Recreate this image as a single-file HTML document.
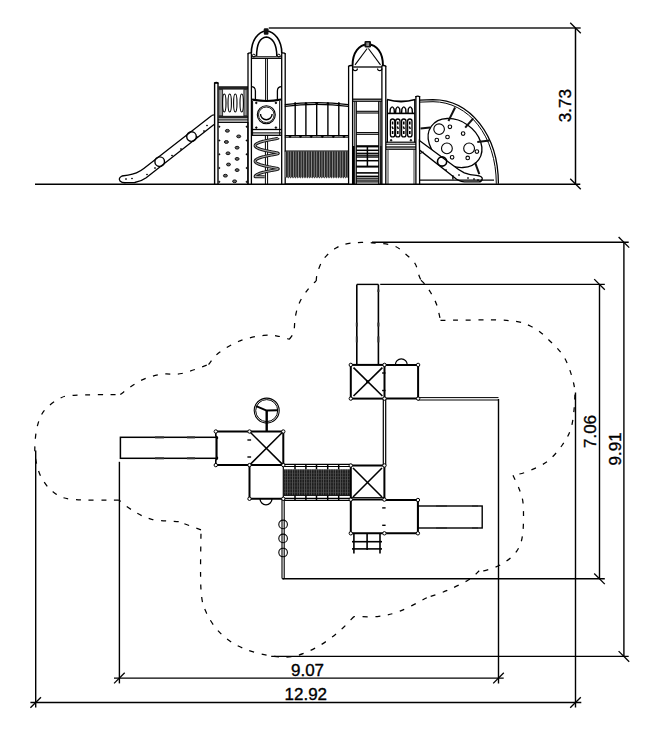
<!DOCTYPE html>
<html><head><meta charset="utf-8"><style>
html,body{margin:0;padding:0;background:#fff;}
body{width:668px;height:735px;overflow:hidden;position:relative;}
svg{position:absolute;left:0;top:0;}
text{font-family:"Liberation Sans",sans-serif;font-size:17px;fill:#000;stroke:#000;stroke-width:0.35px;}
</style></head><body>
<svg width="668" height="735" viewBox="0 0 668 735">
<defs><pattern id="mesh" width="2.4" height="3.2" patternUnits="userSpaceOnUse"><rect width="2.4" height="3.2" fill="#1c1c1c"/><rect x="1.7" width="0.5" height="3.2" fill="#777"/><rect y="2.6" width="2.4" height="0.4" fill="#555"/></pattern><pattern id="mesh2" width="2.6" height="25.4" patternUnits="userSpaceOnUse"><rect width="2.6" height="25.4" fill="#2a2a2a"/><rect x="1.8" width="0.7" height="25.4" fill="#aaa"/></pattern></defs>
<line x1="35" y1="184.3" x2="580.3" y2="184.3" stroke="#000" stroke-width="1.6"/>
<line x1="268.8" y1="28" x2="580.7" y2="28" stroke="#555" stroke-width="1.8"/>
<line x1="575.5" y1="28" x2="575.5" y2="184.3" stroke="#000" stroke-width="1.5"/>
<line x1="570.2" y1="22.7" x2="580.8" y2="33.3" stroke="#000" stroke-width="1.3"/>
<line x1="570.2" y1="178.7" x2="580.8" y2="189.3" stroke="#000" stroke-width="1.3"/>
<line x1="372" y1="242.3" x2="628.7" y2="242.3" stroke="#000" stroke-width="1.4"/>
<line x1="623.9" y1="242.3" x2="623.9" y2="656.4" stroke="#000" stroke-width="1.4"/>
<line x1="618.6" y1="237.0" x2="629.1999999999999" y2="247.60000000000002" stroke="#000" stroke-width="1.3"/>
<line x1="618.6" y1="651.1" x2="629.1999999999999" y2="661.6999999999999" stroke="#000" stroke-width="1.3"/>
<line x1="271.2" y1="656.4" x2="628.7" y2="656.4" stroke="#000" stroke-width="1.4"/>
<line x1="380.2" y1="284.4" x2="604.8" y2="284.4" stroke="#000" stroke-width="1.4"/>
<line x1="599.5" y1="284.4" x2="599.5" y2="578.8" stroke="#000" stroke-width="1.4"/>
<line x1="594.2" y1="279.09999999999997" x2="604.8" y2="289.7" stroke="#000" stroke-width="1.3"/>
<line x1="594.2" y1="573.5" x2="604.8" y2="584.0999999999999" stroke="#000" stroke-width="1.3"/>
<line x1="282.7" y1="578.8" x2="604.8" y2="578.8" stroke="#000" stroke-width="1.4"/>
<line x1="119.4" y1="461.8" x2="119.4" y2="683.4" stroke="#000" stroke-width="1.4"/>
<line x1="498.5" y1="399" x2="498.5" y2="683.4" stroke="#000" stroke-width="1.4"/>
<line x1="114" y1="678.1" x2="503.7" y2="678.1" stroke="#000" stroke-width="1.4"/>
<line x1="114.10000000000001" y1="683.4" x2="124.7" y2="672.8000000000001" stroke="#000" stroke-width="1.3"/>
<line x1="493.2" y1="683.4" x2="503.8" y2="672.8000000000001" stroke="#000" stroke-width="1.3"/>
<line x1="35.7" y1="450.5" x2="35.7" y2="707.6" stroke="#000" stroke-width="1.4"/>
<line x1="575.5" y1="392.5" x2="575.5" y2="707.6" stroke="#000" stroke-width="1.4"/>
<line x1="30.4" y1="702.5" x2="581.3" y2="702.5" stroke="#000" stroke-width="1.4"/>
<line x1="30.400000000000002" y1="707.8" x2="41.0" y2="697.2" stroke="#000" stroke-width="1.3"/>
<line x1="570.2" y1="707.8" x2="580.8" y2="697.2" stroke="#000" stroke-width="1.3"/>
<path d="M316.2,280.9 C316.4,279.5 316.3,276.1 317.5,272.5 C318.7,268.9 320.4,263.3 323.5,259.2 C326.6,255.1 331.5,250.7 336.0,248.0 C340.5,245.3 344.7,244.0 350.7,243.1 C356.7,242.2 364.9,242.4 372.0,242.8 C379.1,243.2 387.8,243.7 393.4,245.6 C399.0,247.5 401.8,251.0 405.4,254.0 C409.0,257.0 412.7,259.9 415.0,263.5 C417.3,267.1 418.0,272.7 419.0,275.5 C420.0,278.3 420.7,279.5 421.0,280.3 M421.0,280.3 C421.6,280.9 423.0,281.9 424.6,283.9 C426.2,285.9 428.5,288.9 430.5,292.3 C432.5,295.7 434.8,299.6 436.5,304.3 C438.2,309.0 439.8,317.7 440.5,320.4 M440.5,320.4 C451.5,320.4 491.2,319.3 506.4,320.4 C521.6,321.4 524.6,323.3 531.8,326.7 C539.0,330.1 544.1,335.4 549.6,340.7 C555.1,346.0 560.9,351.3 564.9,358.5 C568.9,365.7 572.2,376.8 573.8,384.0 C575.4,391.2 575.0,394.6 574.6,401.8 C574.2,409.0 573.3,420.1 571.3,427.3 C569.2,434.5 566.3,439.3 562.3,445.0 C558.3,450.7 553.0,457.1 547.1,461.6 C541.2,466.1 532.4,469.5 526.7,471.8 C521.0,474.1 515.3,474.7 513.0,475.3 M513.0,475.3 C514.1,477.8 517.9,485.1 519.6,490.0 C521.3,494.9 522.7,497.4 523.2,504.9 C523.7,512.4 523.7,527.2 522.6,534.9 C521.5,542.6 519.8,546.6 516.6,551.3 C513.4,556.0 508.2,560.1 503.2,563.3 C498.2,566.4 490.7,569.0 486.7,570.2 C482.7,571.5 480.4,570.7 479.2,570.8 M479.2,570.8 C477.4,572.3 473.9,576.6 468.7,579.8 C463.5,583.0 454.8,587.2 447.8,590.2 C440.8,593.2 430.3,596.5 426.8,597.7 M426.8,597.7 C422.3,600.0 407.9,608.1 399.9,611.2 C391.9,614.3 386.5,615.4 378.9,616.3 C371.2,617.2 358.1,616.5 354.0,616.5 M354.0,616.5 C351.4,619.0 344.8,626.7 338.7,631.7 C332.6,636.7 325.2,642.6 317.7,646.7 C310.2,650.8 301.8,654.8 293.8,656.3 C285.8,657.8 278.3,657.1 269.8,655.7 C261.3,654.4 250.9,651.7 242.9,648.2 C234.9,644.7 227.9,640.4 221.9,634.7 C215.9,629.0 210.4,621.3 206.9,613.8 C203.4,606.3 202.0,603.8 201.0,589.8 C200.0,575.8 201.0,539.8 201.0,529.8 M201.0,529.8 C197.3,528.4 182.4,523.1 178.7,521.7 M178.7,521.7 C174.2,521.3 159.2,521.0 151.7,519.3 C144.2,517.5 139.3,514.4 133.8,511.2 C128.3,508.0 121.3,502.0 118.8,500.1 M118.8,500.1 C110.8,500.0 81.9,500.6 70.9,499.2 C59.9,497.8 57.9,495.4 52.9,491.7 C47.9,488.0 43.9,482.3 41.0,476.8 C38.1,471.3 36.6,464.3 35.6,458.8 C34.6,453.3 34.7,449.3 35.0,443.8 C35.3,438.3 35.9,431.4 37.4,425.9 C38.9,420.4 40.4,415.4 44.0,410.9 C47.6,406.4 53.9,401.5 58.9,398.9 C63.9,396.3 63.7,396.0 73.9,395.3 C84.1,394.6 112.6,394.7 120.3,394.6 M120.3,394.6 C123.5,392.3 133.1,384.4 139.8,381.0 C146.5,377.6 153.7,375.6 160.7,374.4 C167.7,373.1 173.7,375.1 181.7,373.5 C189.7,371.9 204.0,366.0 208.5,364.5 M208.5,364.5 C210.2,362.6 213.7,356.8 218.9,352.8 C224.1,348.9 232.4,343.7 239.9,340.8 C247.4,337.9 257.3,336.1 263.8,335.4 C270.3,334.6 274.6,335.6 278.8,336.3 C283.1,337.0 287.6,338.8 289.3,339.3 M289.3,339.3 C290.1,338.1 292.8,335.6 293.8,331.8 C294.8,328.1 294.3,321.8 295.3,316.8 C296.3,311.8 297.6,306.6 299.8,301.9 C302.0,297.2 306.0,291.9 308.7,288.4 C311.4,284.9 314.9,282.1 316.2,280.9" fill="none" stroke="#000" stroke-width="1.25" stroke-dasharray="5,7.6"/>
<path d="M211.8,115.4 L143.8,168.6 Q137,174 128,175.2 L122,176 Q118,178 120,181 Q122,183 126,182.7 L134.7,182.5 Q141,181.5 146.2,177.7 L214,124.6" fill="none" stroke="#000" stroke-width="1.3" />
<path d="M211.8,115.4 L214.6,114.8 M214,124.6 L214.6,125" fill="none" stroke="#000" stroke-width="1.1" />
<circle cx="159.7" cy="161.7" r="4.8" fill="none" stroke="#000" stroke-width="1.4"/>
<circle cx="191.5" cy="136.6" r="4.8" fill="none" stroke="#000" stroke-width="1.4"/>
<circle cx="126" cy="179" r="0.5" fill="#000" stroke="#000" stroke-width="0.8"/>
<circle cx="132" cy="178.5" r="0.5" fill="#000" stroke="#000" stroke-width="0.8"/>
<circle cx="147" cy="174.5" r="0.5" fill="#000" stroke="#000" stroke-width="0.8"/>
<circle cx="155" cy="168" r="0.5" fill="#000" stroke="#000" stroke-width="0.8"/>
<circle cx="172" cy="155.5" r="0.5" fill="#000" stroke="#000" stroke-width="0.8"/>
<circle cx="181" cy="149" r="0.5" fill="#000" stroke="#000" stroke-width="0.8"/>
<circle cx="197" cy="137" r="0.5" fill="#000" stroke="#000" stroke-width="0.8"/>
<circle cx="204" cy="131" r="0.5" fill="#000" stroke="#000" stroke-width="0.8"/>
<circle cx="207" cy="125.5" r="0.5" fill="#000" stroke="#000" stroke-width="0.8"/>
<line x1="214.6" y1="83" x2="214.6" y2="184.3" stroke="#000" stroke-width="1.4"/>
<line x1="218.0" y1="83" x2="218.0" y2="184.3" stroke="#000" stroke-width="1.4"/>
<line x1="214.29999999999998" y1="83" x2="218.3" y2="83" stroke="#000" stroke-width="1.4"/>
<path d="M214.2,83.3 Q216.3,81.5 218.4,83.3" fill="none" stroke="#000" stroke-width="1.4" />
<rect x="218.2" y="86.2" width="29.8" height="3.4" fill="#222"/>
<rect x="218.8" y="89.6" width="3.8" height="26.2" fill="#999" stroke="#222" stroke-width="0.9"/>
<rect x="243.9" y="89.6" width="3.2" height="26.2" fill="#999" stroke="#222" stroke-width="0.9"/>
<ellipse cx="224.3" cy="103" rx="1.7" ry="9" fill="none" stroke="#000" stroke-width="1.1"/>
<ellipse cx="229.7" cy="103" rx="1.7" ry="9" fill="none" stroke="#000" stroke-width="1.1"/>
<ellipse cx="235.3" cy="103" rx="1.7" ry="9" fill="none" stroke="#000" stroke-width="1.1"/>
<ellipse cx="241.7" cy="103" rx="1.7" ry="9" fill="none" stroke="#000" stroke-width="1.1"/>
<rect x="218.2" y="115.8" width="29.8" height="2.6" fill="#222"/>
<line x1="218" y1="119.9" x2="248" y2="119.9" stroke="#000" stroke-width="1.1"/>
<line x1="218" y1="122.3" x2="248" y2="122.3" stroke="#000" stroke-width="1.3"/>
<line x1="247.9" y1="122" x2="247.9" y2="184" stroke="#000" stroke-width="1.2"/>
<ellipse cx="227.4" cy="130.8" rx="2.0" ry="1.4" fill="#666" stroke="#111" stroke-width="1.0"/>
<ellipse cx="238.7" cy="136.4" rx="2.0" ry="1.4" fill="#666" stroke="#111" stroke-width="1.0"/>
<ellipse cx="226.4" cy="142" rx="2.0" ry="1.4" fill="#666" stroke="#111" stroke-width="1.0"/>
<ellipse cx="237.1" cy="147.7" rx="2.0" ry="1.4" fill="#666" stroke="#111" stroke-width="1.0"/>
<ellipse cx="228" cy="153.3" rx="2.0" ry="1.4" fill="#666" stroke="#111" stroke-width="1.0"/>
<ellipse cx="237.1" cy="158.9" rx="2.0" ry="1.4" fill="#666" stroke="#111" stroke-width="1.0"/>
<ellipse cx="228.5" cy="164.5" rx="2.0" ry="1.4" fill="#666" stroke="#111" stroke-width="1.0"/>
<ellipse cx="237.1" cy="170.1" rx="2.0" ry="1.4" fill="#666" stroke="#111" stroke-width="1.0"/>
<ellipse cx="225.4" cy="175.7" rx="2.0" ry="1.4" fill="#666" stroke="#111" stroke-width="1.0"/>
<ellipse cx="234.6" cy="181.3" rx="2.0" ry="1.4" fill="#666" stroke="#111" stroke-width="1.0"/>
<circle cx="219.4" cy="126.7" r="0.6" fill="#000" stroke="#000" stroke-width="0.7"/>
<circle cx="246.6" cy="126.7" r="0.6" fill="#000" stroke="#000" stroke-width="0.7"/>
<circle cx="219.4" cy="140.5" r="0.6" fill="#000" stroke="#000" stroke-width="0.7"/>
<circle cx="246.6" cy="140.5" r="0.6" fill="#000" stroke="#000" stroke-width="0.7"/>
<circle cx="219.4" cy="154.3" r="0.6" fill="#000" stroke="#000" stroke-width="0.7"/>
<circle cx="246.6" cy="154.3" r="0.6" fill="#000" stroke="#000" stroke-width="0.7"/>
<circle cx="219.4" cy="168" r="0.6" fill="#000" stroke="#000" stroke-width="0.7"/>
<circle cx="246.6" cy="168" r="0.6" fill="#000" stroke="#000" stroke-width="0.7"/>
<circle cx="219.4" cy="181.8" r="0.6" fill="#000" stroke="#000" stroke-width="0.7"/>
<circle cx="246.6" cy="181.8" r="0.6" fill="#000" stroke="#000" stroke-width="0.7"/>
<line x1="248.0" y1="53.5" x2="248.0" y2="184.3" stroke="#000" stroke-width="1.3"/>
<line x1="251.4" y1="53.5" x2="251.4" y2="184.3" stroke="#000" stroke-width="1.3"/>
<line x1="281.7" y1="53.5" x2="281.7" y2="184.3" stroke="#000" stroke-width="1.3"/>
<line x1="285.2" y1="53.5" x2="285.2" y2="184.3" stroke="#000" stroke-width="1.3"/>
<path d="M247.6,54 Q249,52.3 251.8,53" fill="none" stroke="#000" stroke-width="1.3" />
<path d="M281.3,53 Q284,52.3 285.6,54" fill="none" stroke="#000" stroke-width="1.3" />
<path d="M251.3,53.5 C251.3,40 258,32 266.3,30.8 C274.6,32 281.8,40 281.8,53.5" fill="none" stroke="#000" stroke-width="1.6" />
<path d="M256.6,56 C256.6,44 260.5,37.5 266.4,36.9 C272.3,37.5 276.8,44 276.8,56" fill="none" stroke="#000" stroke-width="1.5" />
<rect x="263.8" y="28.3" width="4.7" height="6.5" fill="#111" rx="1"/>
<line x1="251.4" y1="56.8" x2="281.7" y2="56.8" stroke="#000" stroke-width="1.1"/>
<line x1="251.4" y1="58.4" x2="281.7" y2="58.4" stroke="#000" stroke-width="1.1"/>
<circle cx="253.8" cy="55.6" r="1.4" fill="none" stroke="#000" stroke-width="1.0"/>
<circle cx="278.8" cy="55.6" r="1.4" fill="none" stroke="#000" stroke-width="1.0"/>
<line x1="265.6" y1="58.4" x2="265.6" y2="101" stroke="#000" stroke-width="1.0"/>
<line x1="267.4" y1="58.4" x2="267.4" y2="101" stroke="#000" stroke-width="1.0"/>
<path d="M251.1,86.7 Q255.4,86.7 255.4,91 L255.4,99" fill="none" stroke="#000" stroke-width="1.3" />
<path d="M281.7,86.7 Q277.4,86.7 277.4,91 L277.4,99" fill="none" stroke="#000" stroke-width="1.3" />
<path d="M252,99.5 Q266.5,102.5 281.1,99.5" fill="none" stroke="#000" stroke-width="2.0" />
<line x1="252.6" y1="101" x2="252.6" y2="135" stroke="#000" stroke-width="1.0"/>
<line x1="279.7" y1="101" x2="279.7" y2="135" stroke="#000" stroke-width="1.0"/>
<circle cx="266.3" cy="114.8" r="9.0" fill="none" stroke="#000" stroke-width="1.1"/>
<circle cx="266.3" cy="114.8" r="7.8" fill="none" stroke="#000" stroke-width="0.9"/>
<path d="M260.5,114 A5.8,5.8 0 0 0 272.1,114" fill="none" stroke="#000" stroke-width="1.4" />
<circle cx="256.3" cy="102.9" r="0.8" fill="#000" stroke="#000" stroke-width="0.8"/>
<circle cx="275.9" cy="102.9" r="0.8" fill="#000" stroke="#000" stroke-width="0.8"/>
<circle cx="256.3" cy="127.6" r="0.8" fill="#000" stroke="#000" stroke-width="0.8"/>
<circle cx="275.9" cy="127.6" r="0.8" fill="#000" stroke="#000" stroke-width="0.8"/>
<line x1="251.4" y1="129.5" x2="281.7" y2="129.5" stroke="#000" stroke-width="1.3"/>
<line x1="251.4" y1="132.9" x2="281.7" y2="132.9" stroke="#000" stroke-width="1.1"/>
<line x1="251.4" y1="135.3" x2="281.7" y2="135.3" stroke="#000" stroke-width="1.3"/>
<line x1="265.4" y1="135.3" x2="265.4" y2="184" stroke="#000" stroke-width="1.0"/>
<line x1="267.6" y1="135.3" x2="267.6" y2="184" stroke="#000" stroke-width="1.0"/>
<path d="M278.30,137.90 L278.26,137.99 L278.16,138.08 L277.98,138.18 L277.73,138.27 L277.42,138.37 L277.04,138.47 L276.59,138.58 L276.08,138.69 L275.52,138.80 L274.90,138.92 L274.23,139.04 L273.52,139.17 L272.76,139.31 L271.97,139.45 L271.14,139.61 L270.28,139.76 L269.41,139.93 L268.51,140.10 L267.61,140.29 L266.70,140.47 L265.79,140.67 L264.89,140.88 L263.99,141.09 L263.12,141.31 L262.26,141.54 L261.43,141.78 L260.64,142.02 L259.88,142.27 L259.17,142.53 L258.50,142.79 L257.88,143.06 L257.32,143.34 L256.81,143.61 L256.36,143.90 L255.98,144.18 L255.67,144.47 L255.42,144.77 L255.24,145.06 L255.14,145.35 L255.10,145.65 L255.14,145.95 L255.24,146.24 L255.42,146.53 L255.67,146.83 L255.98,147.12 L256.36,147.40 L256.81,147.69 L257.32,147.96 L257.88,148.24 L258.50,148.51 L259.17,148.77 L259.88,149.03 L260.64,149.28 L261.43,149.52 L262.26,149.76 L263.12,149.99 L263.99,150.21 L264.89,150.42 L265.79,150.63 L266.70,150.83 L267.61,151.01 L268.51,151.20 L269.41,151.37 L270.28,151.54 L271.14,151.69 L271.97,151.85 L272.76,151.99 L273.52,152.13 L274.23,152.26 L274.90,152.38 L275.52,152.50 L276.08,152.61 L276.59,152.72 L277.04,152.83 L277.42,152.93 L277.73,153.03 L277.98,153.12 L278.16,153.22 L278.26,153.31 L278.30,153.40 L278.26,153.49 L278.16,153.58 L277.98,153.68 L277.73,153.77 L277.42,153.87 L277.04,153.97 L276.59,154.08 L276.08,154.19 L275.52,154.30 L274.90,154.42 L274.23,154.54 L273.52,154.67 L272.76,154.81 L271.97,154.95 L271.14,155.11 L270.28,155.26 L269.41,155.43 L268.51,155.60 L267.61,155.79 L266.70,155.97 L265.79,156.17 L264.89,156.38 L263.99,156.59 L263.12,156.81 L262.26,157.04 L261.43,157.28 L260.64,157.52 L259.88,157.77 L259.17,158.03 L258.50,158.29 L257.88,158.56 L257.32,158.84 L256.81,159.11 L256.36,159.40 L255.98,159.68 L255.67,159.97 L255.42,160.27 L255.24,160.56 L255.14,160.85 L255.10,161.15 L255.14,161.45 L255.24,161.74 L255.42,162.03 L255.67,162.33 L255.98,162.62 L256.36,162.90 L256.81,163.19 L257.32,163.46 L257.88,163.74 L258.50,164.01 L259.17,164.27 L259.88,164.53 L260.64,164.78 L261.43,165.02 L262.26,165.26 L263.12,165.49 L263.99,165.71 L264.89,165.92 L265.79,166.13 L266.70,166.33 L267.61,166.51 L268.51,166.70 L269.41,166.87 L270.28,167.04 L271.14,167.19 L271.97,167.35 L272.76,167.49 L273.52,167.63 L274.23,167.76 L274.90,167.88 L275.52,168.00 L276.08,168.11 L276.59,168.22 L277.04,168.33 L277.42,168.43 L277.73,168.53 L277.98,168.62 L278.16,168.72 L278.26,168.81 L278.30,168.90 L278.26,168.99 L278.16,169.08 L277.98,169.18 L277.73,169.27 L277.42,169.37 L277.04,169.47 L276.59,169.58 L276.08,169.69 L275.52,169.80 L274.90,169.92 L274.23,170.04 L273.52,170.17 L272.76,170.31 L271.97,170.45 L271.14,170.61 L270.28,170.76 L269.41,170.93 L268.51,171.10 L267.61,171.29 L266.70,171.47 L265.79,171.67 L264.89,171.88 L263.99,172.09 L263.12,172.31 L262.26,172.54 L261.43,172.78 L260.64,173.02 L259.88,173.27 L259.17,173.53 L258.50,173.79 L257.88,174.06 L257.32,174.34 L256.81,174.61 L256.36,174.90 L255.98,175.18 L255.67,175.47 L255.42,175.77 L255.24,176.06 L255.14,176.35 L255.10,176.65 L264.7,176.8" fill="none" stroke="#1a1a1a" stroke-width="3.0" stroke-linejoin="round"/>
<path d="M278.30,137.90 L278.26,137.99 L278.16,138.08 L277.98,138.18 L277.73,138.27 L277.42,138.37 L277.04,138.47 L276.59,138.58 L276.08,138.69 L275.52,138.80 L274.90,138.92 L274.23,139.04 L273.52,139.17 L272.76,139.31 L271.97,139.45 L271.14,139.61 L270.28,139.76 L269.41,139.93 L268.51,140.10 L267.61,140.29 L266.70,140.47 L265.79,140.67 L264.89,140.88 L263.99,141.09 L263.12,141.31 L262.26,141.54 L261.43,141.78 L260.64,142.02 L259.88,142.27 L259.17,142.53 L258.50,142.79 L257.88,143.06 L257.32,143.34 L256.81,143.61 L256.36,143.90 L255.98,144.18 L255.67,144.47 L255.42,144.77 L255.24,145.06 L255.14,145.35 L255.10,145.65 L255.14,145.95 L255.24,146.24 L255.42,146.53 L255.67,146.83 L255.98,147.12 L256.36,147.40 L256.81,147.69 L257.32,147.96 L257.88,148.24 L258.50,148.51 L259.17,148.77 L259.88,149.03 L260.64,149.28 L261.43,149.52 L262.26,149.76 L263.12,149.99 L263.99,150.21 L264.89,150.42 L265.79,150.63 L266.70,150.83 L267.61,151.01 L268.51,151.20 L269.41,151.37 L270.28,151.54 L271.14,151.69 L271.97,151.85 L272.76,151.99 L273.52,152.13 L274.23,152.26 L274.90,152.38 L275.52,152.50 L276.08,152.61 L276.59,152.72 L277.04,152.83 L277.42,152.93 L277.73,153.03 L277.98,153.12 L278.16,153.22 L278.26,153.31 L278.30,153.40 L278.26,153.49 L278.16,153.58 L277.98,153.68 L277.73,153.77 L277.42,153.87 L277.04,153.97 L276.59,154.08 L276.08,154.19 L275.52,154.30 L274.90,154.42 L274.23,154.54 L273.52,154.67 L272.76,154.81 L271.97,154.95 L271.14,155.11 L270.28,155.26 L269.41,155.43 L268.51,155.60 L267.61,155.79 L266.70,155.97 L265.79,156.17 L264.89,156.38 L263.99,156.59 L263.12,156.81 L262.26,157.04 L261.43,157.28 L260.64,157.52 L259.88,157.77 L259.17,158.03 L258.50,158.29 L257.88,158.56 L257.32,158.84 L256.81,159.11 L256.36,159.40 L255.98,159.68 L255.67,159.97 L255.42,160.27 L255.24,160.56 L255.14,160.85 L255.10,161.15 L255.14,161.45 L255.24,161.74 L255.42,162.03 L255.67,162.33 L255.98,162.62 L256.36,162.90 L256.81,163.19 L257.32,163.46 L257.88,163.74 L258.50,164.01 L259.17,164.27 L259.88,164.53 L260.64,164.78 L261.43,165.02 L262.26,165.26 L263.12,165.49 L263.99,165.71 L264.89,165.92 L265.79,166.13 L266.70,166.33 L267.61,166.51 L268.51,166.70 L269.41,166.87 L270.28,167.04 L271.14,167.19 L271.97,167.35 L272.76,167.49 L273.52,167.63 L274.23,167.76 L274.90,167.88 L275.52,168.00 L276.08,168.11 L276.59,168.22 L277.04,168.33 L277.42,168.43 L277.73,168.53 L277.98,168.62 L278.16,168.72 L278.26,168.81 L278.30,168.90 L278.26,168.99 L278.16,169.08 L277.98,169.18 L277.73,169.27 L277.42,169.37 L277.04,169.47 L276.59,169.58 L276.08,169.69 L275.52,169.80 L274.90,169.92 L274.23,170.04 L273.52,170.17 L272.76,170.31 L271.97,170.45 L271.14,170.61 L270.28,170.76 L269.41,170.93 L268.51,171.10 L267.61,171.29 L266.70,171.47 L265.79,171.67 L264.89,171.88 L263.99,172.09 L263.12,172.31 L262.26,172.54 L261.43,172.78 L260.64,173.02 L259.88,173.27 L259.17,173.53 L258.50,173.79 L257.88,174.06 L257.32,174.34 L256.81,174.61 L256.36,174.90 L255.98,175.18 L255.67,175.47 L255.42,175.77 L255.24,176.06 L255.14,176.35 L255.10,176.65 L264.7,176.8" fill="none" stroke="#ddd" stroke-width="0.9" stroke-linejoin="round"/>
<path d="M284.8,104.6 Q316.5,100.6 348.3,104.6" fill="none" stroke="#000" stroke-width="1.2" />
<path d="M284.8,106.4 Q316.5,102.4 348.3,106.4" fill="none" stroke="#000" stroke-width="1.1" />
<line x1="295.2" y1="103" x2="295.2" y2="136.3" stroke="#000" stroke-width="1.4"/>
<circle cx="295.2" cy="103.5" r="0.9" fill="#000" stroke="#000" stroke-width="0.8"/>
<line x1="305.9" y1="103" x2="305.9" y2="136.3" stroke="#000" stroke-width="1.4"/>
<circle cx="305.9" cy="103.5" r="0.9" fill="#000" stroke="#000" stroke-width="0.8"/>
<line x1="316.7" y1="103" x2="316.7" y2="136.3" stroke="#000" stroke-width="1.4"/>
<circle cx="316.7" cy="103.5" r="0.9" fill="#000" stroke="#000" stroke-width="0.8"/>
<line x1="327.9" y1="103" x2="327.9" y2="136.3" stroke="#000" stroke-width="1.4"/>
<circle cx="327.9" cy="103.5" r="0.9" fill="#000" stroke="#000" stroke-width="0.8"/>
<line x1="338.8" y1="103" x2="338.8" y2="136.3" stroke="#000" stroke-width="1.4"/>
<circle cx="338.8" cy="103.5" r="0.9" fill="#000" stroke="#000" stroke-width="0.8"/>
<line x1="284.8" y1="135.6" x2="348.3" y2="135.6" stroke="#000" stroke-width="1.4"/>
<line x1="284.8" y1="137.2" x2="348.3" y2="137.2" stroke="#000" stroke-width="1.0"/>
<circle cx="290" cy="136.5" r="1.0" fill="#000" stroke="#000" stroke-width="0.6"/>
<circle cx="300.5" cy="136.5" r="1.0" fill="#000" stroke="#000" stroke-width="0.6"/>
<circle cx="311.2" cy="136.5" r="1.0" fill="#000" stroke="#000" stroke-width="0.6"/>
<circle cx="322.3" cy="136.5" r="1.0" fill="#000" stroke="#000" stroke-width="0.6"/>
<circle cx="333.3" cy="136.5" r="1.0" fill="#000" stroke="#000" stroke-width="0.6"/>
<circle cx="344" cy="136.5" r="1.0" fill="#000" stroke="#000" stroke-width="0.6"/>
<line x1="284.8" y1="151.2" x2="348.3" y2="151.2" stroke="#000" stroke-width="1.2"/>
<rect x="285.2" y="151.6" width="62.8" height="25.4" fill="url(#mesh2)"/>
<path d="M285.2,177 L285.8,178.6 L287.0,177 L288.2,178.6 L289.4,177 L290.6,178.6 L291.8,177 L293.0,178.6 L294.2,177 L295.4,178.6 L296.6,177 L297.8,178.6 L299.0,177 L300.2,178.6 L301.4,177 L302.6,178.6 L303.8,177 L305.0,178.6 L306.2,177 L307.4,178.6 L308.6,177 L309.8,178.6 L311.0,177 L312.2,178.6 L313.4,177 L314.6,178.6 L315.8,177 L317.0,178.6 L318.2,177 L319.4,178.6 L320.6,177 L321.8,178.6 L323.0,177 L324.2,178.6 L325.4,177 L326.6,178.6 L327.8,177 L329.0,178.6 L330.2,177 L331.4,178.6 L332.6,177 L333.8,178.6 L335.0,177 L336.2,178.6 L337.4,177 L338.6,178.6 L339.8,177 L341.0,178.6 L342.2,177 L343.4,178.6 L344.6,177 L345.8,178.6 L347.0,177 L348.2,178.6 L348,177 Z" fill="#444"/>
<line x1="284.8" y1="183.9" x2="348.3" y2="183.9" stroke="#000" stroke-width="1.0"/>
<line x1="348.6" y1="66" x2="348.6" y2="184.3" stroke="#000" stroke-width="1.3"/>
<line x1="352.6" y1="66" x2="352.6" y2="184.3" stroke="#000" stroke-width="1.3"/>
<line x1="381.9" y1="66" x2="381.9" y2="184.3" stroke="#000" stroke-width="1.3"/>
<line x1="385.8" y1="66" x2="385.8" y2="184.3" stroke="#000" stroke-width="1.3"/>
<path d="M348.2,66.5 Q350,65 353,65.8" fill="none" stroke="#000" stroke-width="1.3" />
<path d="M381.5,65.8 Q384.5,65 386.2,66.5" fill="none" stroke="#000" stroke-width="1.3" />
<path d="M352.5,65.9 C352.5,52 359,45 367.8,44 C376.6,45 383,52 383,65.9" fill="none" stroke="#000" stroke-width="1.9" />
<rect x="364.5" y="40.9" width="6.5" height="6.5" fill="#111" rx="1.2"/>
<rect x="366.3" y="42.5" width="2.8" height="3.5" fill="#888"/>
<line x1="367.2" y1="48.5" x2="355" y2="64.8" stroke="#000" stroke-width="1.1"/>
<line x1="368.4" y1="48.5" x2="380.5" y2="64.8" stroke="#000" stroke-width="1.1"/>
<line x1="352.6" y1="67" x2="381.9" y2="67" stroke="#000" stroke-width="1.3"/>
<path d="M353,68.5 A2.2,2.2 0 0 0 357.4,68.5" fill="none" stroke="#000" stroke-width="1.2" />
<path d="M377.5,68.5 A2.2,2.2 0 0 0 381.9,68.5" fill="none" stroke="#000" stroke-width="1.2" />
<line x1="352.6" y1="99.2" x2="381.9" y2="99.2" stroke="#000" stroke-width="1.3"/>
<line x1="352.6" y1="101.2" x2="381.9" y2="101.2" stroke="#000" stroke-width="1.3"/>
<line x1="356.2" y1="101.2" x2="356.2" y2="184" stroke="#000" stroke-width="1.3"/>
<line x1="378.8" y1="101.2" x2="378.8" y2="184" stroke="#000" stroke-width="1.3"/>
<line x1="354.4" y1="101.2" x2="354.4" y2="184" stroke="#000" stroke-width="0.8"/>
<line x1="380.6" y1="101.2" x2="380.6" y2="184" stroke="#000" stroke-width="0.8"/>
<line x1="356.2" y1="111.3" x2="378.8" y2="111.3" stroke="#000" stroke-width="1.1"/>
<line x1="356.2" y1="113.0" x2="378.8" y2="113.0" stroke="#000" stroke-width="1.1"/>
<line x1="356.2" y1="132.6" x2="378.8" y2="132.6" stroke="#000" stroke-width="1.1"/>
<line x1="356.2" y1="134.3" x2="378.8" y2="134.3" stroke="#000" stroke-width="1.1"/>
<line x1="356.2" y1="146.3" x2="378.8" y2="146.3" stroke="#000" stroke-width="2.2"/>
<line x1="356.2" y1="150.3" x2="378.8" y2="150.3" stroke="#000" stroke-width="1.5"/>
<line x1="356.2" y1="153.3" x2="378.8" y2="153.3" stroke="#000" stroke-width="1.3"/>
<line x1="356.2" y1="155.2" x2="378.8" y2="155.2" stroke="#000" stroke-width="1.3"/>
<line x1="356.2" y1="157.0" x2="378.8" y2="157.0" stroke="#000" stroke-width="1.4"/>
<line x1="356.2" y1="160.7" x2="378.8" y2="160.7" stroke="#000" stroke-width="1.5"/>
<line x1="356.2" y1="166.6" x2="378.8" y2="166.6" stroke="#000" stroke-width="2.0"/>
<line x1="356.2" y1="172.9" x2="378.8" y2="172.9" stroke="#000" stroke-width="1.6"/>
<line x1="356.2" y1="176.3" x2="378.8" y2="176.3" stroke="#000" stroke-width="1.4"/>
<line x1="356.2" y1="178.2" x2="378.8" y2="178.2" stroke="#000" stroke-width="1.2"/>
<line x1="356.2" y1="180.1" x2="378.8" y2="180.1" stroke="#000" stroke-width="1.2"/>
<line x1="356.2" y1="181.9" x2="378.8" y2="181.9" stroke="#000" stroke-width="1.2"/>
<line x1="367.4" y1="146" x2="367.4" y2="166.6" stroke="#000" stroke-width="1.5"/>
<line x1="353.8" y1="146" x2="353.8" y2="184" stroke="#000" stroke-width="1.6"/>
<line x1="380.9" y1="146" x2="380.9" y2="184" stroke="#000" stroke-width="1.2"/>
<line x1="382.0" y1="66" x2="382.0" y2="184.3" stroke="#000" stroke-width="0.01"/>
<line x1="385.9" y1="66" x2="385.9" y2="184.3" stroke="#000" stroke-width="0.01"/>
<path d="M387,99.5 Q401,103.5 415.4,99.5" fill="none" stroke="#000" stroke-width="1.8" />
<line x1="387.4" y1="99.8" x2="387.4" y2="142.4" stroke="#000" stroke-width="1.2"/>
<line x1="414.7" y1="99.8" x2="414.7" y2="142.4" stroke="#000" stroke-width="1.2"/>
<path d="M390.0,113 L390.3,109 Q392.2,104.8 394.09999999999997,109 L394.4,113" fill="none" stroke="#000" stroke-width="1.4" />
<path d="M395.6,113 L395.90000000000003,109 Q397.8,104.8 399.7,109 L400.0,113" fill="none" stroke="#000" stroke-width="1.4" />
<path d="M401.6,113 L401.90000000000003,109 Q403.8,104.8 405.7,109 L406.0,113" fill="none" stroke="#000" stroke-width="1.4" />
<path d="M408.0,113 L408.3,109 Q410.2,104.8 412.09999999999997,109 L412.4,113" fill="none" stroke="#000" stroke-width="1.4" />
<line x1="387.5" y1="113.4" x2="414.7" y2="113.4" stroke="#000" stroke-width="1.6"/>
<rect x="390.40000000000003" y="119" width="4.4" height="17.9" rx="2.2" fill="#fff" stroke="#000" stroke-width="1.3"/>
<line x1="392.6" y1="121.5" x2="392.6" y2="124.5" stroke="#000" stroke-width="1.6"/>
<line x1="392.1" y1="126.5" x2="393.1" y2="129" stroke="#000" stroke-width="1.5"/>
<line x1="392.6" y1="131" x2="392.6" y2="134" stroke="#000" stroke-width="1.6"/>
<rect x="395.6" y="119" width="4.4" height="17.9" rx="2.2" fill="#fff" stroke="#000" stroke-width="1.3"/>
<line x1="397.8" y1="121.5" x2="397.8" y2="124.5" stroke="#000" stroke-width="1.6"/>
<line x1="397.3" y1="126.5" x2="398.3" y2="129" stroke="#000" stroke-width="1.5"/>
<line x1="397.8" y1="131" x2="397.8" y2="134" stroke="#000" stroke-width="1.6"/>
<rect x="401.6" y="119" width="4.4" height="17.9" rx="2.2" fill="#fff" stroke="#000" stroke-width="1.3"/>
<line x1="403.8" y1="121.5" x2="403.8" y2="124.5" stroke="#000" stroke-width="1.6"/>
<line x1="403.3" y1="126.5" x2="404.3" y2="129" stroke="#000" stroke-width="1.5"/>
<line x1="403.8" y1="131" x2="403.8" y2="134" stroke="#000" stroke-width="1.6"/>
<rect x="407.6" y="119" width="4.4" height="17.9" rx="2.2" fill="#fff" stroke="#000" stroke-width="1.3"/>
<line x1="409.8" y1="121.5" x2="409.8" y2="124.5" stroke="#000" stroke-width="1.6"/>
<line x1="409.3" y1="126.5" x2="410.3" y2="129" stroke="#000" stroke-width="1.5"/>
<line x1="409.8" y1="131" x2="409.8" y2="134" stroke="#000" stroke-width="1.6"/>
<circle cx="391.1" cy="140.3" r="0.8" fill="#000" stroke="#000" stroke-width="0.8"/>
<circle cx="410.9" cy="140.3" r="0.8" fill="#000" stroke="#000" stroke-width="0.8"/>
<line x1="386" y1="142.2" x2="416" y2="142.2" stroke="#000" stroke-width="1.2"/>
<line x1="386" y1="144.2" x2="416" y2="144.2" stroke="#000" stroke-width="1.0"/>
<line x1="386" y1="147" x2="416" y2="147" stroke="#000" stroke-width="1.3"/>
<line x1="386" y1="149.2" x2="416" y2="149.2" stroke="#000" stroke-width="1.3"/>
<line x1="388" y1="150" x2="388" y2="184" stroke="#000" stroke-width="0.8"/>
<line x1="414" y1="150" x2="414" y2="184" stroke="#000" stroke-width="0.8"/>
<line x1="415.9" y1="96.1" x2="415.9" y2="184.3" stroke="#000" stroke-width="1.3"/>
<line x1="419.6" y1="96.1" x2="419.6" y2="184.3" stroke="#000" stroke-width="1.3"/>
<path d="M415.5,97 Q417.7,95.2 420,97" fill="none" stroke="#000" stroke-width="1.4" />
<path d="M420,100.1 L433,99.7 C470,99.7 498.4,135 498.4,183.8" fill="none" stroke="#000" stroke-width="1.3" />
<path d="M420,102.1 L433,101.7 C468.5,101.7 496.3,136 496.3,183.8" fill="none" stroke="#000" stroke-width="1.0" />
<ellipse cx="455" cy="143" rx="29" ry="22" transform="rotate(35 455 143)" fill="none" stroke="#000" stroke-width="1.3"/>
<circle cx="439.1" cy="129.2" r="5.3" fill="none" stroke="#000" stroke-width="1.1"/>
<circle cx="446.9" cy="148.4" r="5.4" fill="none" stroke="#000" stroke-width="1.1"/>
<circle cx="469.1" cy="148.4" r="5.4" fill="none" stroke="#000" stroke-width="1.1"/>
<circle cx="449.9" cy="126.8" r="1.8" fill="none" stroke="#000" stroke-width="1.1"/>
<circle cx="463.1" cy="133.6" r="1.8" fill="none" stroke="#000" stroke-width="1.1"/>
<circle cx="447.5" cy="137" r="1.8" fill="none" stroke="#000" stroke-width="1.1"/>
<circle cx="436.8" cy="140" r="1.8" fill="none" stroke="#000" stroke-width="1.1"/>
<circle cx="452.1" cy="157.3" r="1.8" fill="none" stroke="#000" stroke-width="1.1"/>
<circle cx="467.7" cy="157.9" r="1.8" fill="none" stroke="#000" stroke-width="1.1"/>
<circle cx="476.9" cy="151.6" r="1.8" fill="none" stroke="#000" stroke-width="1.1"/>
<line x1="455.1" y1="107.5" x2="448.4" y2="121" stroke="#111" stroke-width="2.0"/>
<line x1="473.3" y1="118.3" x2="465.2" y2="127.7" stroke="#111" stroke-width="2.0"/>
<line x1="489.5" y1="140.5" x2="477.3" y2="141.9" stroke="#111" stroke-width="2.0"/>
<line x1="475.1" y1="162.7" x2="479.3" y2="174.1" stroke="#111" stroke-width="2.0"/>
<line x1="420.5" y1="128.4" x2="430.2" y2="127.5" stroke="#111" stroke-width="2.0"/>
<path d="M419.4,140.6 L453.5,165.7 Q459.5,170.5 464.3,172.9 Q470,175.2 476.3,175.4 Q482.6,176.2 482.3,179 Q481.5,182 478.7,181.9 L464.3,181.9 Q458,181 454.7,177.7 L419.6,150.1 Z" fill="#fff" stroke="#000" stroke-width="1.3" />
<circle cx="442.1" cy="161.5" r="4.6" fill="none" stroke="#000" stroke-width="1.6"/>
<line x1="452.9" y1="175.3" x2="452.9" y2="179.5" stroke="#000" stroke-width="1.4"/>
<path d="M419.6,153.7 L423.6,152" fill="none" stroke="#000" stroke-width="1.0" />
<line x1="419.6" y1="180.1" x2="494" y2="180.1" stroke="#000" stroke-width="1.2"/>
<circle cx="446" cy="170" r="0.5" fill="#000" stroke="#000" stroke-width="0.8"/>
<circle cx="459" cy="175" r="0.5" fill="#000" stroke="#000" stroke-width="0.8"/>
<circle cx="468" cy="178" r="0.5" fill="#000" stroke="#000" stroke-width="0.8"/>
<circle cx="474" cy="179" r="0.5" fill="#000" stroke="#000" stroke-width="0.8"/>
<circle cx="478" cy="180" r="0.5" fill="#000" stroke="#000" stroke-width="0.8"/>
<rect x="120.4" y="437.3" width="95.8" height="21.0" fill="none" stroke="#000" stroke-width="1.5"/>
<line x1="215.8" y1="431.5" x2="283.3" y2="431.5" stroke="#000" stroke-width="2.0"/>
<line x1="215.8" y1="465.1" x2="283.3" y2="465.1" stroke="#000" stroke-width="2.0"/>
<path d="M215.8,431.5 L215.8,436 Q218.5,437.4 216.8,439 L216.8,456.5 Q218.5,458.3 215.8,460 L215.8,465.1" fill="none" stroke="#000" stroke-width="1.6" />
<line x1="283.3" y1="431.5" x2="283.3" y2="465.1" stroke="#000" stroke-width="2.0"/>
<line x1="249.5" y1="431.5" x2="283.3" y2="465.1" stroke="#000" stroke-width="1.5"/>
<line x1="283.3" y1="431.5" x2="249.5" y2="465.1" stroke="#000" stroke-width="1.5"/>
<line x1="247.4" y1="440" x2="251.1" y2="440" stroke="#000" stroke-width="1.4"/>
<line x1="247.4" y1="457" x2="251.1" y2="457" stroke="#000" stroke-width="1.4"/>
<line x1="249.5" y1="465.1" x2="249.5" y2="498.8" stroke="#000" stroke-width="2.0"/>
<line x1="249.5" y1="498.8" x2="283.3" y2="498.8" stroke="#000" stroke-width="2.0"/>
<line x1="283.3" y1="465.1" x2="283.3" y2="498.8" stroke="#000" stroke-width="1.2"/>
<path d="M260,498.8 A6,6 0 0 0 272,498.8" fill="none" stroke="#000" stroke-width="1.3" />
<circle cx="266.7" cy="410.6" r="12.5" fill="none" stroke="#000" stroke-width="1.1"/>
<circle cx="266.7" cy="410.6" r="11.0" fill="none" stroke="#000" stroke-width="1.0"/>
<path d="M266.7,410.6 L256.2,406.1 M266.7,410.6 L277.9,410.2" fill="none" stroke="#000" stroke-width="2.0" />
<line x1="266.7" y1="410.6" x2="266.7" y2="431" stroke="#000" stroke-width="2.4"/>
<path d="M282,499 L282,578 Q283.1,580 284.2,578 L284.2,499" fill="none" stroke="#000" stroke-width="1.1" />
<circle cx="283.1" cy="524.4" r="4.3" fill="none" stroke="#000" stroke-width="1.1"/>
<circle cx="283.1" cy="538.4" r="4.3" fill="none" stroke="#000" stroke-width="1.1"/>
<circle cx="283.1" cy="552.5" r="4.3" fill="none" stroke="#000" stroke-width="1.1"/>
<line x1="283.3" y1="464.4" x2="350.8" y2="464.4" stroke="#000" stroke-width="1.1"/>
<line x1="283.3" y1="466.5" x2="350.8" y2="466.5" stroke="#000" stroke-width="1.1"/>
<line x1="283.3" y1="498.4" x2="350.8" y2="498.4" stroke="#000" stroke-width="1.1"/>
<line x1="283.3" y1="500.4" x2="350.8" y2="500.4" stroke="#000" stroke-width="1.1"/>
<line x1="295" y1="464" x2="295" y2="469.5" stroke="#000" stroke-width="1.5"/>
<line x1="295" y1="495.5" x2="295" y2="500.8" stroke="#000" stroke-width="1.5"/>
<line x1="305.9" y1="464" x2="305.9" y2="469.5" stroke="#000" stroke-width="1.5"/>
<line x1="305.9" y1="495.5" x2="305.9" y2="500.8" stroke="#000" stroke-width="1.5"/>
<line x1="316.5" y1="464" x2="316.5" y2="469.5" stroke="#000" stroke-width="1.5"/>
<line x1="316.5" y1="495.5" x2="316.5" y2="500.8" stroke="#000" stroke-width="1.5"/>
<line x1="327.7" y1="464" x2="327.7" y2="469.5" stroke="#000" stroke-width="1.5"/>
<line x1="327.7" y1="495.5" x2="327.7" y2="500.8" stroke="#000" stroke-width="1.5"/>
<line x1="338.7" y1="464" x2="338.7" y2="469.5" stroke="#000" stroke-width="1.5"/>
<line x1="338.7" y1="495.5" x2="338.7" y2="500.8" stroke="#000" stroke-width="1.5"/>
<rect x="284" y="469.3" width="66.5" height="26.3" fill="url(#mesh)"/>
<line x1="284" y1="495.3" x2="350.8" y2="495.3" stroke="#000" stroke-width="1.0"/>
<rect x="350.8" y="465.5" width="33.6" height="34" fill="none" stroke="#000" stroke-width="2.0"/>
<line x1="353" y1="468" x2="382" y2="497" stroke="#000" stroke-width="1.6"/>
<line x1="382" y1="468" x2="353" y2="497" stroke="#000" stroke-width="1.6"/>
<line x1="350.8" y1="497.6" x2="384.4" y2="497.6" stroke="#000" stroke-width="1.0"/>
<line x1="383.3" y1="398.6" x2="383.3" y2="465.5" stroke="#000" stroke-width="1.2"/>
<line x1="385.7" y1="398.6" x2="385.7" y2="465.5" stroke="#000" stroke-width="1.2"/>
<line x1="384.4" y1="500" x2="417.9" y2="500" stroke="#000" stroke-width="2.0"/>
<line x1="350.8" y1="533.3" x2="417.9" y2="533.3" stroke="#000" stroke-width="2.0"/>
<line x1="350.8" y1="500" x2="350.8" y2="533.3" stroke="#000" stroke-width="2.0"/>
<line x1="417.9" y1="500" x2="417.9" y2="533.3" stroke="#000" stroke-width="2.0"/>
<line x1="382.2" y1="507.9" x2="385.6" y2="507.9" stroke="#000" stroke-width="1.4"/>
<line x1="382.2" y1="525.3" x2="385.6" y2="525.3" stroke="#000" stroke-width="1.4"/>
<rect x="417.9" y="506" width="64.3" height="22" fill="none" stroke="#000" stroke-width="1.4"/>
<line x1="353.9" y1="533.3" x2="353.9" y2="553.6" stroke="#000" stroke-width="1.6"/>
<line x1="367.1" y1="533.3" x2="367.1" y2="550" stroke="#000" stroke-width="1.6"/>
<line x1="380" y1="533.3" x2="380" y2="553.6" stroke="#000" stroke-width="1.6"/>
<line x1="352" y1="541.7" x2="382" y2="541.7" stroke="#000" stroke-width="1.6"/>
<line x1="352" y1="548.9" x2="382" y2="548.9" stroke="#000" stroke-width="1.6"/>
<rect x="350.8" y="364.9" width="33.7" height="33.7" fill="none" stroke="#000" stroke-width="2.0"/>
<line x1="353.5" y1="367.6" x2="382.4" y2="396" stroke="#000" stroke-width="1.6"/>
<line x1="382.4" y1="367.6" x2="353.5" y2="396" stroke="#000" stroke-width="1.6"/>
<rect x="366.2" y="380.4" width="2.8" height="2.8" fill="#000"/>
<line x1="384.5" y1="364.9" x2="418.1" y2="364.9" stroke="#000" stroke-width="2.0"/>
<line x1="384.5" y1="398.6" x2="418.1" y2="398.6" stroke="#000" stroke-width="2.0"/>
<line x1="418.1" y1="364.9" x2="418.1" y2="398.6" stroke="#000" stroke-width="2.0"/>
<path d="M395.3,364.9 A6,6 0 0 1 407.3,364.9" fill="none" stroke="#000" stroke-width="1.3" />
<line x1="382.1" y1="373" x2="385.5" y2="373" stroke="#000" stroke-width="1.4"/>
<line x1="382.1" y1="390.5" x2="385.5" y2="390.5" stroke="#000" stroke-width="1.4"/>
<line x1="418.1" y1="397.6" x2="498.5" y2="397.6" stroke="#000" stroke-width="1.0"/>
<line x1="418.1" y1="400.0" x2="498.5" y2="400.0" stroke="#000" stroke-width="1.0"/>
<line x1="356.8" y1="284.4" x2="356.8" y2="364.9" stroke="#000" stroke-width="1.6"/>
<line x1="378.4" y1="284.4" x2="378.4" y2="364.9" stroke="#000" stroke-width="1.6"/>
<line x1="356.8" y1="284.4" x2="378.4" y2="284.4" stroke="#000" stroke-width="1.4"/>
<rect x="155" y="436.4" width="9" height="2.0" fill="#333"/>
<rect x="155" y="457.3" width="9" height="2.0" fill="#333"/>
<rect x="187" y="436.4" width="8" height="2.0" fill="#333"/>
<rect x="187" y="457.3" width="8" height="2.0" fill="#333"/>
<rect x="355.8" y="322.6" width="2.0" height="3.8999999999999773" fill="#333"/>
<rect x="377.4" y="322.6" width="2.0" height="3.8999999999999773" fill="#333"/>
<rect x="355.8" y="336.4" width="2.0" height="6.0" fill="#333"/>
<rect x="377.4" y="336.4" width="2.0" height="6.0" fill="#333"/>
<rect x="377.4" y="289.5" width="2.0" height="2.5" fill="#333"/>
<rect x="436" y="505.0" width="11" height="2.0" fill="#333"/>
<rect x="436" y="527.0" width="11" height="2.0" fill="#333"/>
<rect x="472" y="505.0" width="6" height="2.0" fill="#333"/>
<rect x="472" y="527.0" width="6" height="2.0" fill="#333"/>
<circle cx="215.8" cy="431.5" r="1.7" fill="#fff" stroke="#000" stroke-width="1.0"/>
<circle cx="249.5" cy="431.5" r="1.7" fill="#fff" stroke="#000" stroke-width="1.0"/>
<circle cx="283.3" cy="431.5" r="1.7" fill="#fff" stroke="#000" stroke-width="1.0"/>
<circle cx="215.8" cy="465.1" r="1.7" fill="#fff" stroke="#000" stroke-width="1.0"/>
<circle cx="249.5" cy="465.1" r="1.7" fill="#fff" stroke="#000" stroke-width="1.0"/>
<circle cx="283.3" cy="465.1" r="1.7" fill="#fff" stroke="#000" stroke-width="1.0"/>
<circle cx="249.5" cy="498.8" r="1.7" fill="#fff" stroke="#000" stroke-width="1.0"/>
<circle cx="283.3" cy="498.8" r="1.7" fill="#fff" stroke="#000" stroke-width="1.0"/>
<circle cx="350.8" cy="465.5" r="1.7" fill="#fff" stroke="#000" stroke-width="1.0"/>
<circle cx="384.4" cy="465.5" r="1.7" fill="#fff" stroke="#000" stroke-width="1.0"/>
<circle cx="350.8" cy="499.6" r="1.7" fill="#fff" stroke="#000" stroke-width="1.0"/>
<circle cx="384.4" cy="499.6" r="1.7" fill="#fff" stroke="#000" stroke-width="1.0"/>
<circle cx="417.9" cy="500" r="1.7" fill="#fff" stroke="#000" stroke-width="1.0"/>
<circle cx="350.8" cy="533.3" r="1.7" fill="#fff" stroke="#000" stroke-width="1.0"/>
<circle cx="384.4" cy="533.3" r="1.7" fill="#fff" stroke="#000" stroke-width="1.0"/>
<circle cx="417.9" cy="533.3" r="1.7" fill="#fff" stroke="#000" stroke-width="1.0"/>
<circle cx="350.8" cy="364.9" r="1.7" fill="#fff" stroke="#000" stroke-width="1.0"/>
<circle cx="384.5" cy="364.9" r="1.7" fill="#fff" stroke="#000" stroke-width="1.0"/>
<circle cx="418.1" cy="364.9" r="1.7" fill="#fff" stroke="#000" stroke-width="1.0"/>
<circle cx="350.8" cy="398.6" r="1.7" fill="#fff" stroke="#000" stroke-width="1.0"/>
<circle cx="384.5" cy="398.6" r="1.7" fill="#fff" stroke="#000" stroke-width="1.0"/>
<circle cx="418.1" cy="398.6" r="1.7" fill="#fff" stroke="#000" stroke-width="1.0"/>
<text x="307.5" y="675.8" text-anchor="middle">9.07</text>
<text x="305.8" y="699.8" text-anchor="middle">12.92</text>
<text transform="translate(571.4,105.7) rotate(-90)" text-anchor="middle">3.73</text>
<text transform="translate(595.9,431.5) rotate(-90)" text-anchor="middle">7.06</text>
<text transform="translate(621.1,448.9) rotate(-90)" text-anchor="middle">9.91</text>
</svg>
</body></html>
